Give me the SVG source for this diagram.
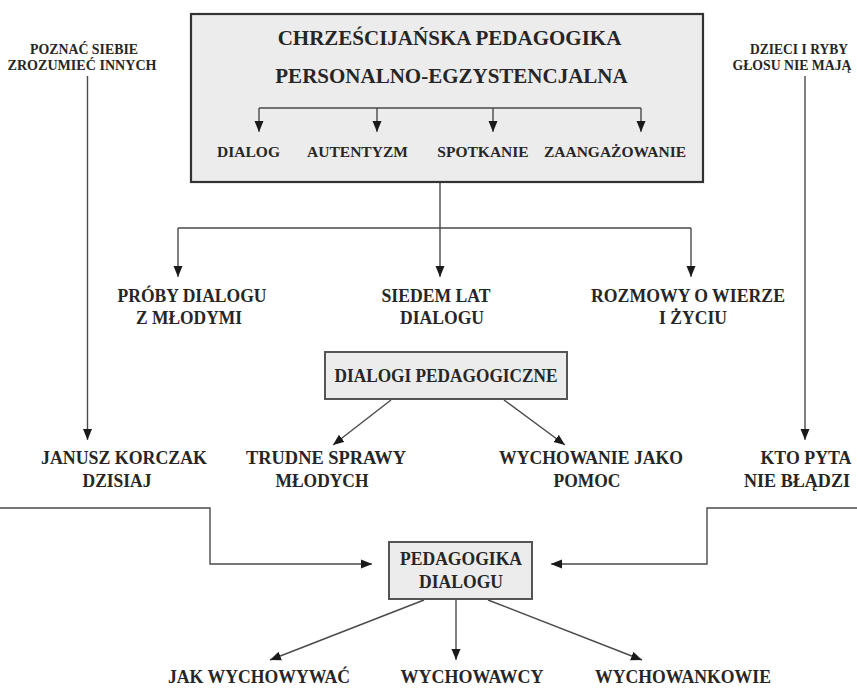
<svg xmlns="http://www.w3.org/2000/svg" width="857" height="688" viewBox="0 0 857 688">
<defs>
<marker id="ah" markerUnits="userSpaceOnUse" markerWidth="10" markerHeight="12" refX="11" refY="5" orient="auto">
<path d="M0,0.5 L11,5 L0,9.5 Z" fill="#1a1a1a"/>
</marker>
<style>
text{font-family:"Liberation Serif","Times New Roman",serif;font-weight:bold;fill:#262626;text-anchor:middle}
.t1{font-size:21px}
.t2{font-size:15.5px}
.t3{font-size:19px}
.t4{font-size:14.5px}
.c{fill:none;stroke:#4a4a4a;stroke-width:1.4}
.box{fill:#ececec;stroke:#333;stroke-width:2.2}
.sbox{fill:#ececec;stroke:#555;stroke-width:2}
</style>
</defs>
<rect width="857" height="688" fill="#fff"/>

<g id="main">
<rect class="box" x="191" y="14" width="512" height="168"/>
<text class="t1" x="449.5" y="45">CHRZEŚCIJAŃSKA PEDAGOGIKA</text>
<text class="t1" x="451.5" y="83">PERSONALNO-EGZYSTENCJALNA</text>
</g>
<g id="dialog"><text class="t2" x="248.5" y="157">DIALOG</text></g>
<g id="autentyzm"><text class="t2" x="357.5" y="157">AUTENTYZM</text></g>
<g id="spotkanie"><text class="t2" x="483" y="157">SPOTKANIE</text></g>
<g id="zaangazowanie"><text class="t2" x="615" y="157">ZAANGAŻOWANIE</text></g>

<g id="poznac">
<text class="t4" x="84" y="54" textLength="108" lengthAdjust="spacingAndGlyphs">POZNAĆ SIEBIE</text>
<text class="t4" x="82" y="70" textLength="149" lengthAdjust="spacingAndGlyphs">ZROZUMIEĆ INNYCH</text>
</g>
<g id="dzieci">
<text class="t4" x="799" y="54" textLength="98" lengthAdjust="spacingAndGlyphs">DZIECI I RYBY</text>
<text class="t4" x="792" y="70" textLength="119" lengthAdjust="spacingAndGlyphs">GŁOSU NIE MAJĄ</text>
</g>

<g id="proby">
<text class="t3" x="192" y="302" textLength="149" lengthAdjust="spacingAndGlyphs">PRÓBY DIALOGU</text>
<text class="t3" x="189" y="324" textLength="106" lengthAdjust="spacingAndGlyphs">Z MŁODYMI</text>
</g>
<g id="siedem">
<text class="t3" x="436" y="302" textLength="109" lengthAdjust="spacingAndGlyphs">SIEDEM LAT</text>
<text class="t3" x="442" y="324" textLength="84" lengthAdjust="spacingAndGlyphs">DIALOGU</text>
</g>
<g id="rozmowy">
<text class="t3" x="688" y="302" textLength="194" lengthAdjust="spacingAndGlyphs">ROZMOWY O WIERZE</text>
<text class="t3" x="693" y="324" textLength="68" lengthAdjust="spacingAndGlyphs">I ŻYCIU</text>
</g>

<g id="dialogi">
<rect class="sbox" x="325" y="352" width="242" height="47"/>
<text class="t3" x="446" y="382" textLength="223" lengthAdjust="spacingAndGlyphs">DIALOGI PEDAGOGICZNE</text>
</g>

<g id="korczak">
<text class="t3" x="124" y="464" textLength="166" lengthAdjust="spacingAndGlyphs">JANUSZ KORCZAK</text>
<text class="t3" x="117" y="487" textLength="69" lengthAdjust="spacingAndGlyphs">DZISIAJ</text>
</g>
<g id="trudne">
<text class="t3" x="326" y="464" textLength="160" lengthAdjust="spacingAndGlyphs">TRUDNE SPRAWY</text>
<text class="t3" x="322" y="487" textLength="93" lengthAdjust="spacingAndGlyphs">MŁODYCH</text>
</g>
<g id="wychowanie">
<text class="t3" x="591" y="464" textLength="184" lengthAdjust="spacingAndGlyphs">WYCHOWANIE JAKO</text>
<text class="t3" x="587" y="487" textLength="67" lengthAdjust="spacingAndGlyphs">POMOC</text>
</g>
<g id="kto">
<text class="t3" x="806" y="464" textLength="91" lengthAdjust="spacingAndGlyphs">KTO PYTA</text>
<text class="t3" x="797" y="487" textLength="106" lengthAdjust="spacingAndGlyphs">NIE BŁĄDZI</text>
</g>

<g id="pedagogika">
<rect class="sbox" x="389" y="542" width="143" height="57"/>
<text class="t3" x="461" y="565" textLength="122" lengthAdjust="spacingAndGlyphs">PEDAGOGIKA</text>
<text class="t3" x="461" y="588" textLength="84" lengthAdjust="spacingAndGlyphs">DIALOGU</text>
</g>

<g id="jak"><text class="t3" x="259" y="683" textLength="182" lengthAdjust="spacingAndGlyphs">JAK WYCHOWYWAĆ</text></g>
<g id="wychowawcy"><text class="t3" x="472" y="683" textLength="143" lengthAdjust="spacingAndGlyphs">WYCHOWAWCY</text></g>
<g id="wychowankowie"><text class="t3" x="683" y="683" textLength="176" lengthAdjust="spacingAndGlyphs">WYCHOWANKOWIE</text></g>

<g id="connectors">
<path class="c" d="M259,108 H641"/>
<path class="c" d="M259,108 V132" marker-end="url(#ah)"/>
<path class="c" d="M377,108 V132" marker-end="url(#ah)"/>
<path class="c" d="M493,108 V132" marker-end="url(#ah)"/>
<path class="c" d="M641,108 V132" marker-end="url(#ah)"/>
<path class="c" d="M440,183 V277" marker-end="url(#ah)"/>
<path class="c" d="M178,228 H691"/>
<path class="c" d="M178,228 V277" marker-end="url(#ah)"/>
<path class="c" d="M691,228 V277" marker-end="url(#ah)"/>
<path class="c" d="M87.5,76 V440" marker-end="url(#ah)"/>
<path class="c" d="M805,76 V440" marker-end="url(#ah)"/>
<path class="c" d="M391,400 L333,445" marker-end="url(#ah)"/>
<path class="c" d="M504,400 L565,445" marker-end="url(#ah)"/>
<path class="c" d="M0,508 H210 V564 H372" marker-end="url(#ah)"/>
<path class="c" d="M857,508 H707 V564 H551" marker-end="url(#ah)"/>
<path class="c" d="M424,600 L270,660" marker-end="url(#ah)"/>
<path class="c" d="M456,600 V660" marker-end="url(#ah)"/>
<path class="c" d="M488,600 L642,660" marker-end="url(#ah)"/>
</g>
</svg>
